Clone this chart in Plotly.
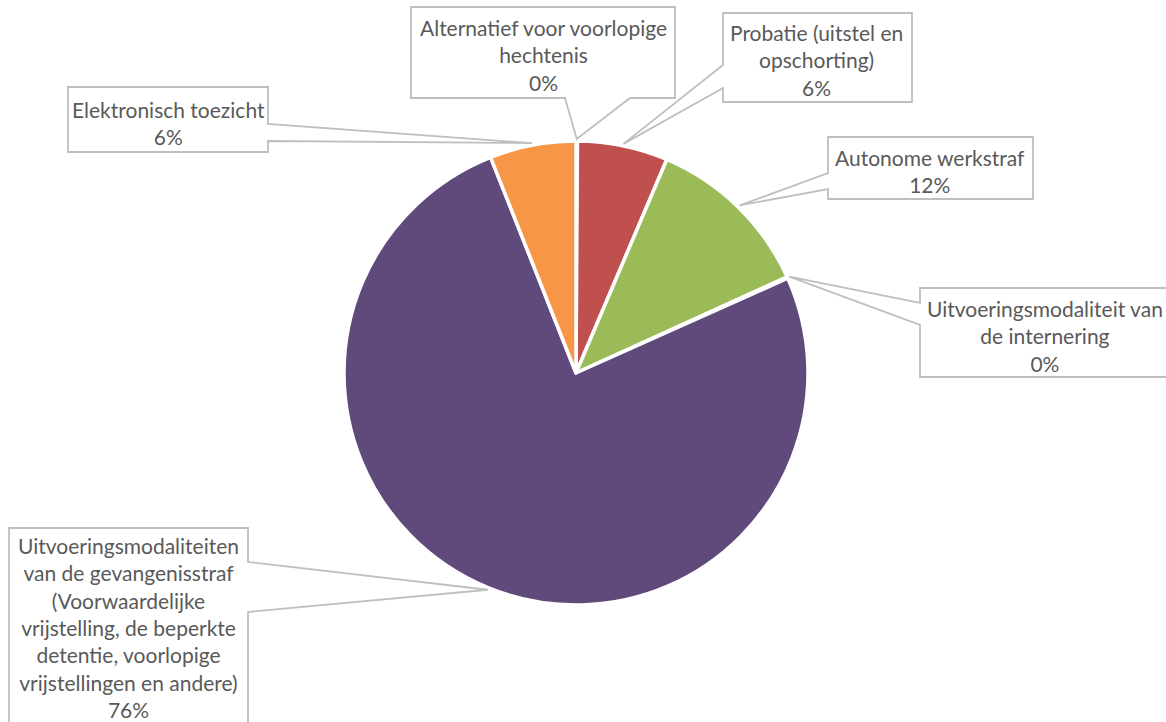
import math
import plotly.graph_objects as go

# ---- data ----
categories = [
    "Alternatief voor voorlopige hechtenis",
    "Probatie (uitstel en opschorting)",
    "Autonome werkstraf",
    "Uitvoeringsmodaliteit van de internering",
    "Uitvoeringsmodaliteiten van de gevangenisstraf (Voorwaardelijke vrijstelling, de beperkte detentie, voorlopige vrijstellingen en andere)",
    "Elektronisch toezicht",
]
values = [0.1, 6.3, 11.8, 0.1, 75.7, 6.0]
label_lines = [
    ["Alternatief voor voorlopige", "hechtenis"],
    ["Probatie (uitstel en", "opschorting)"],
    ["Autonome werkstraf"],
    ["Uitvoeringsmodaliteit van", "de internering"],
    ["Uitvoeringsmodaliteiten", "van de gevangenisstraf", "(Voorwaardelijke",
     "vrijstelling, de beperkte", "detentie, voorlopige",
     "vrijstellingen en andere)"],
    ["Elektronisch toezicht"],
]
colors = ["#4F81BD", "#C0504D", "#9BBB59", "#4BACC6", "#604A7B", "#F79646"]

# ---- layout (pixels) ----
W, H = 1166, 722
CX, CY, R = 576, 373, 232
# callout boxes: (x0, y0, x1, y1, side, base1, base2)
boxes = [
    (411, 7, 675, 98, "bottom", 565, 630),
    (723, 13, 912, 102, "left", 65, 88),
    (828, 137, 1033, 199, "left", 173, 189),
    (920, 288, 1172, 377, "left", 303, 325),
    (9, 528, 248, 732, "right", 562, 612),
    (68, 87, 268, 152, "right", 124, 141),
]
text_centers = [(543, 55), (817, 60), (930, 171), (1045, 336), (128, 627), (168, 123)]


def px(x):
    return x / W


def py(y):
    return 1 - y / H


fig = go.Figure(
    go.Pie(
        labels=categories,
        values=values,
        sort=False,
        direction="clockwise",
        rotation=0,
        marker=dict(colors=colors, line=dict(color="white", width=3.5)),
        textinfo="none",
        showlegend=False,
        domain=dict(x=[px(CX - R), px(CX + R)], y=[py(CY + R), py(CY - R)]),
    )
)

total = sum(values)
shapes = []
annotations = []
cum = 0.0
for i, v in enumerate(values):
    mid = (cum + v / 2) / total * 360.0
    cum += v
    a = math.radians(mid)
    tx = CX + (R + 2) * math.sin(a)
    ty = CY - (R + 2) * math.cos(a)
    x0, y0, x1, y1, side, b1, b2 = boxes[i]
    if side == "bottom":
        pts = [(x0, y0), (x1, y0), (x1, y1), (b2, y1), (tx, ty), (b1, y1), (x0, y1)]
    elif side == "left":
        pts = [(x0, y0), (x1, y0), (x1, y1), (x0, y1), (x0, b2), (tx, ty), (x0, b1)]
    else:
        pts = [(x0, y0), (x1, y0), (x1, b1), (tx, ty), (x1, b2), (x1, y1), (x0, y1)]
    path = "M " + " L ".join(f"{px(x):.5f},{py(y):.5f}" for x, y in pts) + " Z"
    shapes.append(dict(type="path", path=path, xref="paper", yref="paper",
                       line=dict(color="#BFBFBF", width=1.8), fillcolor="white",
                       layer="above"))
    pct = round(v / total * 100 + 1e-9)
    txt = "<br>".join(label_lines[i] + [f"{pct:.0f}%"])
    cx_, cy_ = text_centers[i]
    annotations.append(dict(x=px(cx_), y=py(cy_), xref="paper", yref="paper",
                            text=txt, showarrow=False, align="center",
                            xanchor="center", yanchor="middle",
                            font=dict(family="Lato", size=21, color="#595959")))

fig.update_layout(
    width=W, height=H,
    margin=dict(l=0, r=0, t=0, b=0),
    paper_bgcolor="white",
    plot_bgcolor="white",
    shapes=shapes,
    annotations=annotations,
)

fig.write_html(
    "out.html",
    config={"displayModeBar": False},
    post_script="document.body.style.margin='0px';document.body.style.overflow='hidden';",
)
